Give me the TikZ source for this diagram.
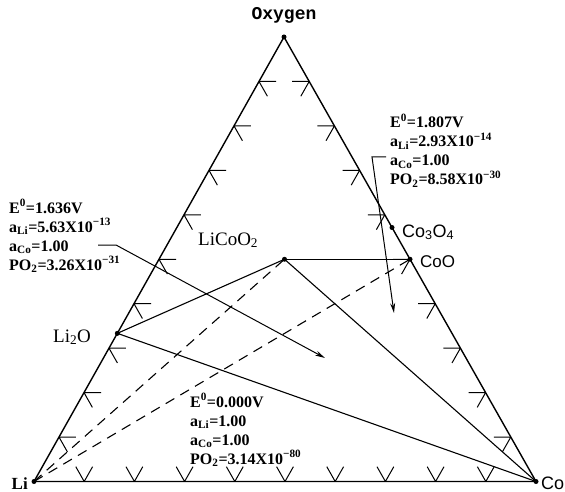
\documentclass[tikz,border=0pt]{standalone}
\usepackage{fontspec}
\setmainfont{Liberation Serif}
\newfontfamily\monof{Liberation Mono}
\newfontfamily\sansf{Liberation Sans}
\usetikzlibrary{arrows.meta,calc}
\begin{document}
\begin{tikzpicture}[x=1pt,y=-1pt,
  edge/.style={line width=1.4pt,line join=round},
  tie/.style={line width=1.1pt},
  tiedash/.style={line width=1.1pt,dash pattern=on 10pt off 7pt},
  tickl/.style={line width=1pt},
  ptr/.style={line width=1pt,-{Stealth[length=10pt,width=5pt]}},
  dotn/.style={circle,fill,inner sep=0pt,minimum size=5pt},
  ann/.style={anchor=base west,inner sep=0pt,font=\fontsize{16}{18}\selectfont\bfseries},
  lab/.style={inner sep=0pt},
]
\useasboundingbox (0,0) rectangle (565,492);
% vertices
\coordinate (pLi) at (34,481.5);
\coordinate (pCo) at (536,481.5);
\coordinate (pO) at (284,37);
% compounds
\coordinate (pLiTwoO) at ($(pLi)!1/3!(pO)$);
\coordinate (pCoO) at ($(pCo)!0.5!(pO)$);
\coordinate (pCoThree) at ($(pCo)!4/7!(pO)$);
\coordinate (pLiCoO) at (barycentric cs:pLi=1,pCo=1,pO=2);
% triangle
\draw[edge] (pLi) -- (pCo) -- (pO) -- cycle;
% ticks
\foreach \k in {1,...,9}{
  \draw[tickl] ($(pLi)!\k/10!(pO)$) coordinate (tl\k) -- ++(17,0) (tl\k) -- ++(8.4,14.8);
  \draw[tickl] ($(pCo)!\k/10!(pO)$) coordinate (tr\k) -- ++(-17,0) (tr\k) -- ++(-8.4,14.8);
  \draw[tickl] ($(pLi)!\k/10!(pCo)$) coordinate (tb\k) -- ++(-8.4,-14.8) (tb\k) -- ++(8.4,-14.8);
}
% tie lines
\draw[tie] (pLiCoO) -- (pCoO);
\draw[tie] (pLiTwoO) -- (pLiCoO);
\draw[tie] (pLiTwoO) -- (pCo);
\draw[tie] (pLiCoO) -- (pCo);
\draw[tiedash] (pLi) -- (pLiCoO);
\draw[tiedash] (pLi) -- (pCoO);
% dots
\node[dotn] (dO) at (pO) {};
\node[dotn] (dLi) at (pLi) {};
\node[dotn] (dCo) at (pCo) {};
\node[dotn] (dLiTwoO) at (pLiTwoO) {};
\node[dotn] (dLiCoO) at (pLiCoO) {};
\node[dotn] (dCoO) at (pCoO) {};
\node[dotn] (dCoThree) at (pCoThree) {};
% labels
\node[lab,anchor=base,font=\monof\bfseries\fontsize{18}{18}\selectfont] (lO) at (284,20) {Oxygen};
\node[lab,anchor=base west,font=\fontsize{19}{19}\selectfont] (lLiTwoO) at (53,342) {Li\textsubscript{2}O};
\node[lab,anchor=base west,font=\fontsize{19}{19}\selectfont] (lLiCoO) at (198,245) {LiCoO\textsubscript{2}};
\node[lab,anchor=base west,font=\sansf\fontsize{18}{18}\selectfont] (lCoThree) at (402,237) {Co\textsubscript{3}O\textsubscript{4}};
\node[lab,anchor=base west,font=\sansf\fontsize{17}{17}\selectfont] (lCoO) at (420,267) {CoO};
\node[lab,anchor=base east,font=\bfseries\fontsize{17}{17}\selectfont] (lLi) at (28,489) {Li};
\node[lab,anchor=base west,font=\sansf\fontsize{18}{18}\selectfont] (lCo) at (541,489) {Co};
% right annotation
\node[ann] (ra) at (390,128) {E\textsuperscript{0}=1.807V};
\node[ann] (rb) at (390,147) {a\textsubscript{Li}=2.93X10\textsuperscript{−14}};
\node[ann] (rc) at (390,166) {a\textsubscript{Co}=1.00};
\node[ann] (rd) at (390,185) {PO\textsubscript{2}=8.58X10\textsuperscript{−30}};
% left annotation
\node[ann] (la) at (9,213) {E\textsuperscript{0}=1.636V};
\node[ann] (lb) at (9,232) {a\textsubscript{Li}=5.63X10\textsuperscript{−13}};
\node[ann] (lc) at (9,251) {a\textsubscript{Co}=1.00};
\node[ann] (ld) at (9,270) {PO\textsubscript{2}=3.26X10\textsuperscript{−31}};
% bottom annotation
\node[ann] (ba) at (190,407) {E\textsuperscript{0}=0.000V};
\node[ann] (bb) at (190,426) {a\textsubscript{Li}=1.00};
\node[ann] (bc) at (190,445) {a\textsubscript{Co}=1.00};
\node[ann] (bd) at (190,464) {PO\textsubscript{2}=3.14X10\textsuperscript{−80}};
% pointers
\coordinate (lp0) at (98,245);
\coordinate (lp1) at (116,245);
\coordinate (lp2) at (325,358);
\draw[ptr] (lp0) -- (lp1) -- (lp2);
\coordinate (rp0) at (386,157);
\coordinate (rp1) at (372,157);
\coordinate (rp2) at (394,313);
\draw[ptr] (rp0) -- (rp1) -- (rp2);
\end{tikzpicture}
\end{document}
